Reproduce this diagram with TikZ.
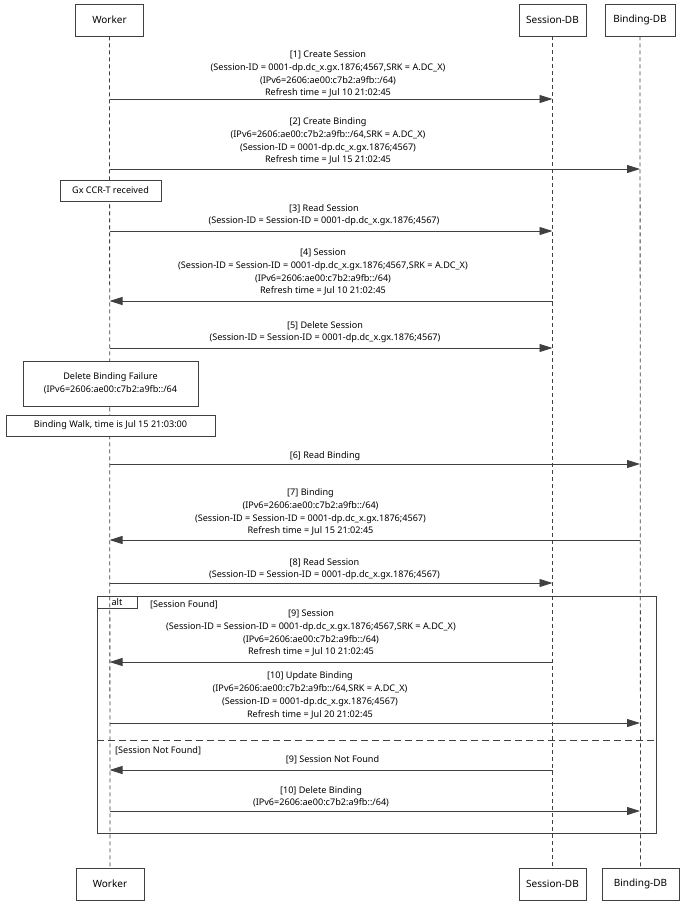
\documentclass[tikz,border=0pt]{standalone}
\usepackage{fontspec}
\setmainfont{Noto Sans}
\usetikzlibrary{arrows.meta}
\definecolor{ln}{HTML}{404040}
\begin{document}
\begin{tikzpicture}[x=1pt,y=-1pt,
  actor/.style={draw=ln, line width=0.9pt, minimum height=32pt, inner sep=0pt, fill=white, font=\fontsize{10}{12}\selectfont},
  life/.style={draw=ln, line width=0.8pt, dash pattern=on 4pt off 3pt},
  msg/.style={draw=ln, line width=0.9pt, -{Triangle[length=13pt,width=8pt]}},
  lbl/.style={font=\fontsize{9.1}{12.8}\selectfont, align=center, inner sep=0pt, text depth=0pt, anchor=south},
  notebox/.style={draw=ln, line width=0.9pt, fill=white, inner sep=0pt, align=center, font=\fontsize{9.1}{12.8}\selectfont},
  frm/.style={draw=ln, line width=1pt},
  guard/.style={font=\fontsize{9.1}{10}\selectfont, inner sep=0pt, anchor=west}
]
\useasboundingbox (0,0) rectangle (689,906);
% actors
\node[actor, minimum width=68pt] (w1) at (109.5,20) {Worker};
\node[actor, minimum width=67pt] (s1) at (552.5,20) {Session-DB};
\node[actor, minimum width=70pt] (b1) at (640,20) {Binding-DB};
\node[actor, minimum width=68pt] (w2) at (110,884) {Worker};
\node[actor, minimum width=67pt] (s2) at (552.5,884) {Session-DB};
\node[actor, minimum width=77pt] (b2) at (640.5,884) {Binding-DB};
% lifelines
\draw[life] (w1.south) -- (w2.north);
\draw[life] (s1.south) -- (s2.north);
\draw[life] (b1.south) -- (b2.north);
% message rows
\coordinate (m1) at (0,99);
\coordinate (m2) at (0,169);
\coordinate (m3) at (0,231);
\coordinate (m4) at (0,301);
\coordinate (m5) at (0,348);
\coordinate (m6) at (0,464);
\coordinate (m7) at (0,540);
\coordinate (m8) at (0,583);
\coordinate (m9) at (0,662);
\coordinate (m10) at (0,723);
\coordinate (m11) at (0,770);
\coordinate (m12) at (0,811);
% alt frame
\draw[frm] (97,596) rectangle (656,833);
\node[draw=ln, line width=1pt, minimum width=40pt, minimum height=12pt, inner sep=0pt, font=\fontsize{9.1}{10}\selectfont] (alt) at (117,602) {alt};
\draw[draw=ln, line width=1pt, dash pattern=on 7pt off 4pt] (97,740) -- (656,740);
\node[guard] (g1) at (150,605) {[Session Found]};
\node[guard] (g2) at (115,751) {[Session Not Found]};
% messages
\draw[msg] (w1 |- m1) -- (s1 |- m1);
\node[lbl] (l1) at (328,96) {[1] Create Session\\(Session-ID = 0001-dp.dc\_x.gx.1876;4567,SRK = A.DC\_X)\\(IPv6=2606:ae00:c7b2:a9fb::/64)\\Refresh time = Jul 10 21:02:45};
\draw[msg] (w1 |- m2) -- (b1 |- m2);
\node[lbl] (l2) at (328,163) {[2] Create Binding\\(IPv6=2606:ae00:c7b2:a9fb::/64,SRK = A.DC\_X)\\(Session-ID = 0001-dp.dc\_x.gx.1876;4567)\\Refresh time = Jul 15 21:02:45};
\node[notebox, minimum width=101pt, minimum height=21pt] (n1) at (110.5,190.5) {Gx CCR-T received};
\draw[msg] (w1 |- m3) -- (s1 |- m3);
\node[lbl] (l3) at (324,224) {[3] Read Session\\(Session-ID = Session-ID = 0001-dp.dc\_x.gx.1876;4567)};
\draw[msg] (s1 |- m4) -- (w1 |- m4);
\node[lbl] (l4) at (323,294) {[4] Session\\(Session-ID = Session-ID = 0001-dp.dc\_x.gx.1876;4567,SRK = A.DC\_X)\\(IPv6=2606:ae00:c7b2:a9fb::/64)\\Refresh time = Jul 10 21:02:45};
\draw[msg] (w1 |- m5) -- (s1 |- m5);
\node[lbl] (l5) at (325,341) {[5] Delete Session\\(Session-ID = Session-ID = 0001-dp.dc\_x.gx.1876;4567)};
\node[notebox, minimum width=175pt, minimum height=45pt] (n2) at (110.5,383.5) {Delete Binding Failure\\(IPv6=2606:ae00:c7b2:a9fb::/64};
\node[notebox, minimum width=209pt, minimum height=21pt] (n3) at (110.5,425.5) {Binding Walk, time is Jul 15 21:03:00};
\draw[msg] (w1 |- m6) -- (b1 |- m6);
\node[lbl] (l6) at (325,459) {[6] Read Binding};
\draw[msg] (b1 |- m7) -- (w1 |- m7);
\node[lbl] (l7) at (310.5,534) {[7] Binding\\(IPv6=2606:ae00:c7b2:a9fb::/64)\\(Session-ID = Session-ID = 0001-dp.dc\_x.gx.1876;4567)\\Refresh time = Jul 15 21:02:45};
\draw[msg] (w1 |- m8) -- (s1 |- m8);
\node[lbl] (l8) at (324.5,578) {[8] Read Session\\(Session-ID = Session-ID = 0001-dp.dc\_x.gx.1876;4567)};
\draw[msg] (s1 |- m9) -- (w1 |- m9);
\node[lbl] (l9) at (311,655) {[9] Session\\(Session-ID = Session-ID = 0001-dp.dc\_x.gx.1876;4567,SRK = A.DC\_X)\\(IPv6=2606:ae00:c7b2:a9fb::/64)\\Refresh time = Jul 10 21:02:45};
\draw[msg] (w1 |- m10) -- (b1 |- m10);
\node[lbl] (l10) at (310,717.5) {[10] Update Binding\\(IPv6=2606:ae00:c7b2:a9fb::/64,SRK = A.DC\_X)\\(Session-ID = 0001-dp.dc\_x.gx.1876;4567)\\Refresh time = Jul 20 21:02:45};
\draw[msg] (s1 |- m11) -- (w1 |- m11);
\node[lbl] (l11) at (332.5,763) {[9] Session Not Found};
\draw[msg] (w1 |- m12) -- (b1 |- m12);
\node[lbl] (l12) at (321,806) {[10] Delete Binding\\(IPv6=2606:ae00:c7b2:a9fb::/64)};
\end{tikzpicture}
\end{document}
